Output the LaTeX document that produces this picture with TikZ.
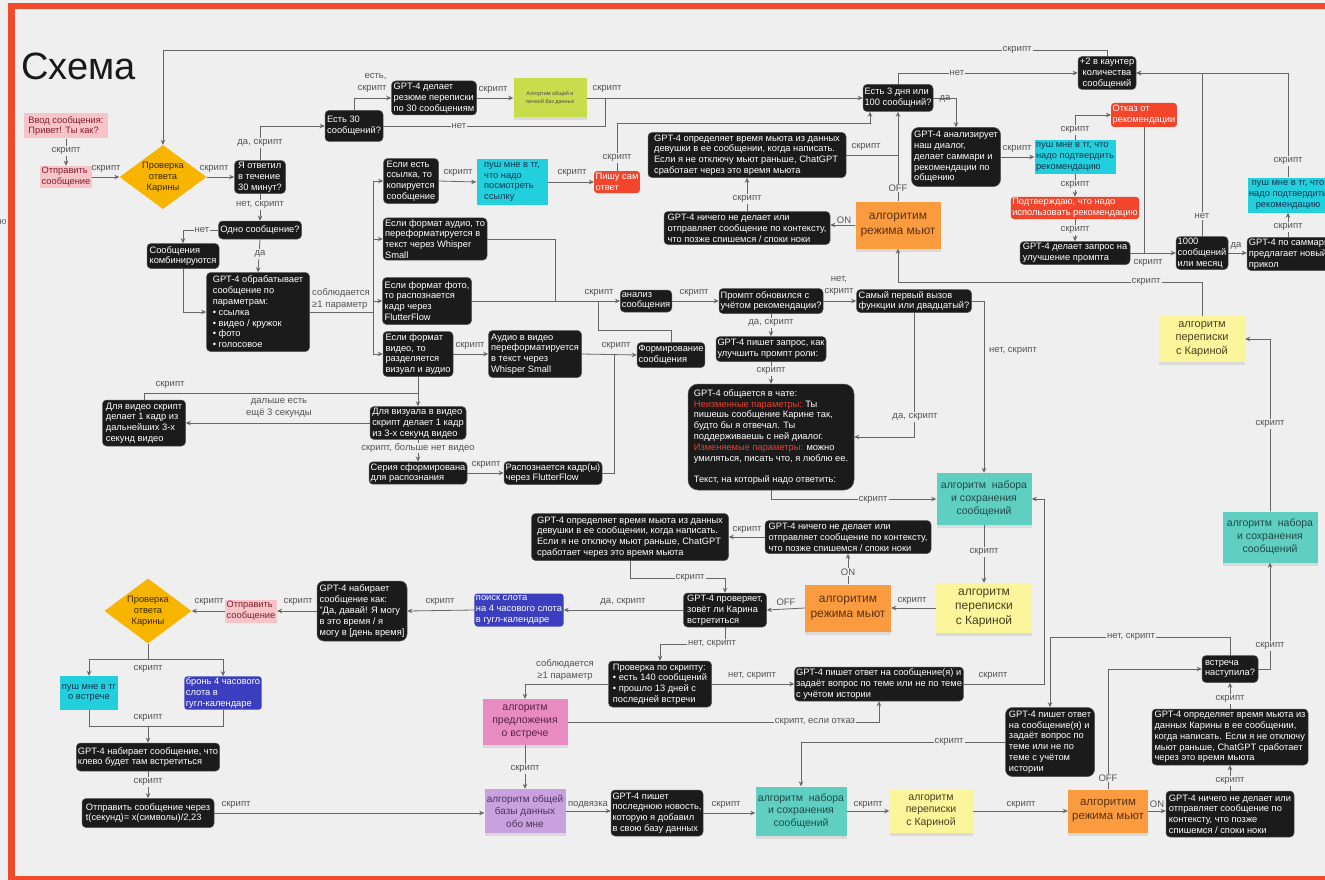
\documentclass[tikz,border=0pt]{standalone}
\usepackage{fontspec}
\setmainfont{Liberation Sans}
\usetikzlibrary{arrows.meta,shapes.geometric,shadows}
\definecolor{bgc}{HTML}{EFEFEF}
\definecolor{framec}{HTML}{F04A2A}
\definecolor{nblack}{HTML}{1B1B1B}
\definecolor{nborder}{HTML}{555555}
\definecolor{pinkf}{HTML}{F9C4C8}
\definecolor{pinkt}{HTML}{7A1E30}
\definecolor{diaf}{HTML}{F7B500}
\definecolor{diat}{HTML}{3A2A00}
\definecolor{limef}{HTML}{C7DD4C}
\definecolor{cyanf}{HTML}{22CFDC}
\definecolor{cyant}{HTML}{143650}
\definecolor{redf}{HTML}{F2452B}
\definecolor{bluef}{HTML}{3B3FBF}
\definecolor{tealf}{HTML}{5FCFC1}
\definecolor{tealt}{HTML}{234A48}
\definecolor{yelf}{HTML}{FBF59C}
\definecolor{yelt}{HTML}{45421E}
\definecolor{orf}{HTML}{FB9B3F}
\definecolor{ort}{HTML}{5A3414}
\definecolor{pkf}{HTML}{E88BC1}
\definecolor{pkt}{HTML}{5A2448}
\definecolor{puf}{HTML}{C9A1DE}
\definecolor{put}{HTML}{4A3560}
\definecolor{linec}{HTML}{666666}
\definecolor{labc}{HTML}{555555}
\definecolor{redt}{HTML}{E8412E}
\newcommand\myfa{\fontsize{9.3}{10.8}\selectfont}
\newcommand\myfl{\fontsize{9.5}{12}\selectfont}
\newcommand\myfs{\fontsize{10.5}{13}\selectfont}
\newcommand\myfo{\fontsize{12}{15}\selectfont}
\newcommand\myfd{\fontsize{9.3}{10.8}\selectfont}
\tikzset{
  sz/.style 2 args={minimum width=#1, minimum height=#2},
  base/.style={font=\myfa, inner sep=1.5pt, align=left},
  blk/.style={base, rectangle, rounded corners=4pt, fill=nblack, draw=nborder, line width=0.5pt, text=white},
  pinkb/.style={base, rectangle, fill=pinkf, text=pinkt},
  cyanb/.style={base, rectangle, fill=cyanf, text=cyant},
  redb/.style={base, rectangle, rounded corners=3pt, fill=redf, text=white},
  blueb/.style={base, rectangle, rounded corners=3pt, fill=bluef, text=white},
  sticky/.style={rectangle, font=\myfs, align=center, inner sep=2pt, drop shadow={shadow xshift=0pt, shadow yshift=-3pt, opacity=0.18}},
  tealb/.style={sticky, fill=tealf, text=tealt},
  yelb/.style={sticky, fill=yelf, text=yelt},
  orb/.style={sticky, fill=orf, text=ort, font=\myfo},
  pkb/.style={sticky, fill=pkf, text=pkt},
  pub/.style={sticky, fill=puf, text=put},
  limeb/.style={sticky, fill=limef, text=black!70, font=\fontsize{5.5}{7.5}\selectfont},
  dia/.style={diamond, fill=diaf, text=diat, font=\myfd, align=center, inner sep=0pt, aspect=1.36},
  line/.style={draw=linec, line width=0.8pt},
  arr/.style={line, -{Stealth[length=5pt,width=4.5pt]}},
  lab/.style={font=\myfl, text=labc, inner sep=1pt, align=center},
  labf/.style={lab, fill=bgc},
}
\begin{document}
\begin{tikzpicture}[x=1pt,y=-1pt]
\useasboundingbox (0,0) rectangle (1325,880);
\clip (0,0) rectangle (1325,880);
\fill[bgc] (0,0) rectangle (1325,880);
\draw[framec, line width=6.5pt] (11.5,885) -- (11.5,6) -- (1335,6);
\draw[framec, line width=4pt] (11.5,878) -- (1335,878);

\node[anchor=west, font=\fontsize{38}{40}\selectfont, text=black!90] (title) at (18,66) {Схема};
\node[font=\myfa, text=black!60, inner sep=0pt] (edgeyu) at (3,222) {ю};

% ---------- nodes ----------
\node[pinkb, sz={84pt}{25pt}] (n1) at (66,126) {Ввод сообщения:\\Привет! Ты как?};
\node[pinkb, sz={52pt}{22pt}] (n2) at (66,177) {Отправить\\сообщение};
\node[dia, sz={87pt}{64pt}] (n3) at (163,177) {Проверка\\ответа\\Карины};
\node[blk, sz={51pt}{33pt}] (n4) at (260,177) {Я ответил\\в течение\\30 минут?};
\node[blk, sz={58pt}{31pt}] (n5) at (354,126) {Есть 30\\сообщений?};
\node[blk, sz={85pt}{34pt}] (n6) at (434,98) {GPT-4 делает\\резюме переписки\\по 30 сообщениям};
\node[limeb, sz={73pt}{39pt}] (n7) at (550,98) {Алгортим общей и\\личной баз данных};
\node[blk, sz={70pt}{27pt}] (n8) at (898,98) {Есть 3 дня или\\100 сообщний?};
\node[blk, sz={55pt}{45pt}] (n9) at (411,181) {Если есть\\ссылка, то\\копируется\\сообщение};
\node[cyanb, sz={71pt}{46pt}] (n10) at (512,182) {пуш мне в тг,\\что надо\\посмотреть\\ссылку};
\node[redb, sz={45pt}{22pt}] (n11) at (617,182) {Пишу сам\\ответ};
\node[blk, sz={104pt}{42pt}] (n12) at (435,239) {Если формат аудио, то\\переформатируется в\\текст через Whisper\\Small};
\node[blk, sz={89pt}{47pt}] (n13) at (427,301) {Если формат фото,\\то распознается\\кадр через\\FlutterFlow};
\node[blk, sz={70pt}{45pt}] (n14) at (418,354) {Если формат\\видео, то\\разделяется\\визуал и аудио};
\node[blk, sz={83pt}{18pt}] (n15) at (260,230) {Одно сообщение?};
\node[blk, sz={72pt}{25pt}] (n16) at (183,256) {Сообщения\\комбинируются};
\node[blk, sz={103pt}{79pt}] (n17) at (258,312) {GPT-4 обрабатывает\\сообщение по\\параметрам:\\• ссылка\\• видео / кружок\\• фото\\• голосовое};
\node[blk, sz={93pt}{47pt}] (n18) at (535,354) {Аудио в видео\\переформатируется\\в текст через\\Whisper Small};
\node[blk, sz={51pt}{22pt}] (n19) at (646,301) {анализ\\сообщения};
\node[blk, sz={67pt}{25pt}] (n20) at (671,355) {Формирование\\сообщения};
\node[blk, sz={104pt}{25pt}] (n21) at (771,301) {Промпт обновился с\\учётом рекомендации?};
\node[blk, sz={115pt}{23pt}] (n22) at (914,301) {Самый первый вызов\\функции или двадцатый?};
\node[blk, sz={109pt}{25pt}] (n23) at (771,349) {GPT-4 пишет запрос, как\\улучшить промпт роли:};
\node[blk, sz={166pt}{106pt}, rounded corners=10pt] (n24) at (771,437) {GPT-4 общается в чате:\\\textcolor{redt}{Неизменные параметры:} Ты\\пишешь сообщение Карине так,\\будто бы я отвечал. Ты\\поддерживаешь с ней диалог.\\\textcolor{redt}{Изменяемые параметры:} можно\\умиляться, писать что, я люблю ее.\\\mbox{}\\Текст, на который надо ответить:};
\node[tealb, sz={95pt}{52pt}] (n25) at (984,499) {алгоритм\ \ набора\\и сохранения\\сообщений};
\node[yelb, sz={96pt}{50pt}, font=\fontsize{12}{14.5}\selectfont] (n26) at (984,608) {алгоритм\\переписки\\с Кариной};
\node[orb, sz={86pt}{47pt}] (n27) at (848,608) {алгоритим\\режима мьют};
\node[blk, sz={166pt}{33pt}] (n28) at (848,537) {GPT-4 ничего не делает или\\отправляет сообщение по контексту,\\что позже спишемся / споки ноки};
\node[blk, sz={197pt}{47pt}] (n29) at (630,537) {GPT-4 определяет время мьюта из данных\\девушки в ее сообщении, когда написать.\\Если я не отключу мьют раньше, ChatGPT\\сработает через это время мьюта};
\node[blk, sz={83pt}{34pt}] (n30) at (725,610) {GPT-4 проверяет,\\зовёт ли Карина\\встретиться};
\node[blueb, sz={88pt}{33pt}] (n31) at (519,610) {поиск слота\\на 4 часового слота\\в гугл-календаре};
\node[blk, sz={90pt}{60pt}, rounded corners=7pt] (n32) at (362,611) {GPT-4 набирает\\сообщение как:\\"Да, давай! Я могу\\в это время / я\\могу в [день время]};
\node[pinkb, sz={51pt}{23pt}] (n33) at (251,611) {Отправить\\сообщение};
\node[dia, sz={87pt}{65pt}] (n34) at (148,611) {Проверка\\ответа\\Карины};
\node[cyanb, sz={57pt}{34pt}, align=center] (n35) at (89,693) {пуш мне в тг\\о встрече};
\node[blueb, sz={77pt}{32pt}] (n36) at (223,693) {бронь 4 часового\\слота в\\гугл-календаре};
\node[blk, sz={143pt}{28pt}] (n37) at (148,757) {GPT-4 набирает сообщение, что\\клево будет там встретиться};
\node[blk, sz={132pt}{29pt}] (n38) at (148,813) {Отправить сообщение через\\t(секунд)= x(символы)/2,23};
\node[pub, sz={81pt}{44pt}, font=\fontsize{10}{12.5}\selectfont] (n39) at (525,811) {алгоритм общей\\базы данных\\обо мне};
\node[pkb, sz={85pt}{46pt}] (n40) at (525,722) {алгоритм\\предложения\\о встрече};
\node[blk, sz={103pt}{46pt}] (n41) at (660,684) {Проверка по скрипту:\\• есть 140 сообщений\\• прошло 13 дней с\\последней встречи};
\node[blk, sz={168pt}{34pt}] (n42) at (879,684) {GPT-4 пишет ответ на сообщение(я) и\\задаёт вопрос по теме или не по теме\\с учётом истории};
\node[blk, sz={56pt}{27pt}] (n43) at (1230,669) {встреча\\наступила?};
\node[blk, sz={89pt}{69pt}, rounded corners=7pt] (n44) at (1050,742) {GPT-4 пишет ответ\\на сообщение(я) и\\задаёт вопрос по\\теме или не по\\теме с учётом\\истории};
\node[tealb, sz={91pt}{49pt}, font=\fontsize{10.5}{12.5}\selectfont] (n45) at (801,811) {алгоритм\ \ набора\\и сохранения\\сообщений};
\node[blk, sz={92pt}{46pt}] (n46) at (657,813) {GPT-4 пишет\\последнюю новость,\\которую я добавил\\в свою базу данных};
\node[yelb, sz={83pt}{43pt}, font=\fontsize{10.5}{12.5}\selectfont] (n47) at (931,811) {алгоритм\\переписки\\с Кариной};
\node[orb, sz={80pt}{43pt}, font=\fontsize{11.5}{14}\selectfont] (n48) at (1108,811) {алгоритим\\режима мьют};
\node[blk, sz={128pt}{46pt}] (n49) at (1230,814) {GPT-4 ничего не делает или\\отправляет сообщение по\\контексту, что позже\\спишемся / споки ноки};
\node[blk, sz={156pt}{56pt}] (n50) at (1230,737) {GPT-4 определяет время мьюта из\\данных Карины в ее сообщении,\\когда написать. Если я не отключу\\мьют раньше, ChatGPT сработает\\через это время мьюта};
\node[tealb, sz={95pt}{51pt}] (n51) at (1270,537) {алгоритм\ \ набора\\и сохранения\\сообщений};
\node[yelb, sz={86pt}{46pt}, font=\fontsize{11}{13.5}\selectfont] (n52) at (1202,339) {алгоритм\\переписки\\с Кариной};
\node[orb, sz={85pt}{47pt}] (n53) at (898,225) {алгоритим\\режима мьют};
\node[blk, sz={166pt}{33pt}] (n54) at (747,228) {GPT-4 ничего не делает или\\отправляет сообщение по контексту,\\что позже спишемся / споки ноки};
\node[blk, sz={198pt}{45pt}] (n55) at (747,155) {GPT-4 определяет время мьюта из данных\\девушки в ее сообщении, когда написать.\\Если я не отключу мьют раньше, ChatGPT\\сработает через это время мьюта};
\node[blk, sz={58pt}{33pt}, align=center] (n56) at (1107,73) {+2 в каунтер\\количества\\сообщений};
\node[blk, sz={89pt}{59pt}, rounded corners=7pt] (n57) at (956,157) {GPT-4 анализирует\\наш диалог,\\делает саммари и\\рекомендации по\\общению};
\node[cyanb, sz={81pt}{34pt}] (n58) at (1075,157) {пуш мне в тг, что\\надо подтвердить\\рекомендацию};
\node[redb, sz={64pt}{24pt}] (n59) at (1144,115) {Отказ от\\рекомендации};
\node[redb, sz={127pt}{22pt}] (n60) at (1075,208) {Подтверждаю, что надо\\использовать рекомендацию};
\node[blk, sz={110pt}{23pt}] (n61) at (1075,253) {GPT-4 делает запрос на\\улучшение промпта};
\node[blk, sz={52pt}{33pt}] (n62) at (1202,253) {1000\\сообщений\\или месяц};
\node[blk, sz={84pt}{32pt}] (n63) at (1289,254) {GPT-4 по саммари\\предлагает новый\\прикол};
\node[cyanb, sz={80pt}{35pt}, align=center] (n64) at (1288,195) {пуш мне в тг, что\\надо подтвердить\\рекомендацию};
\node[blk, sz={96pt}{32pt}] (n65) at (418,423) {Для визуала в видео\\скрипт делает 1 кадр\\из 3-х секунд видео};
\node[blk, sz={83pt}{46pt}] (n66) at (144,423) {Для видео скрипт\\делает 1 кадр из\\дальнейших 3-х\\секунд видео};
\node[blk, sz={98pt}{22pt}] (n67) at (418,473) {Серия сформирована\\для распознания};
\node[blk, sz={98pt}{23pt}] (n68) at (553,473) {Распознается кадр(ы)\\через FlutterFlow};

% ---------- helper coordinates ----------
\coordinate (ctop) at (163,50);
\coordinate (m1) at (605,98);
\coordinate (c11) at (870,123);
\coordinate (b1) at (373,312);
\coordinate (j1) at (555,301);
\coordinate (j2) at (598,330);
\coordinate (k1) at (725,578);
\coordinate (k2) at (660,644);
\coordinate (k3) at (1044,684);
\coordinate (k4) at (1050,637);
\coordinate (k5) at (898,282);
\coordinate (s1) at (148,659);
\coordinate (s2) at (148,726);
\coordinate (v1) at (418,393);
\coordinate (v2) at (614,354);
\coordinate (g1) at (898,155);

% ---------- connectors ----------
\draw[arr] (n1.south) -- (n2.north);
\draw[arr] (n2.east) -- (n3.west);
\draw[arr] (n56.north) |- (ctop) -- (n3.north);
\draw[arr] (n3.east) -- (n4.west);
\draw[arr] (n4.north) |- (n5.west);
\draw[arr] (n5.north) |- (n6.west);
\draw[arr] (n6.east) -- (n7.west);
\draw[arr] (n7.east) -- (n8.west);
\draw[line] (n5.east) -| (m1);
\draw[arr] (n11.north) |- (c11) -- (c11 |- n8.south);
\draw[arr] (n4.south) -- (n15.north);
\draw[arr] (n15.west) -| (n16.north);
\draw[arr] (n15.south) -- (n17.north);
\draw[arr] (n16.south) |- (n17.west);
\draw[line] (n17.east) -- (b1);
\draw[arr] (b1) |- (n9.west);
\draw[arr] (b1) |- (n12.west);
\draw[arr] (b1) |- (n13.west);
\draw[arr] (b1) |- (n14.west);
\draw[arr] (n9.east) -- (n10.west);
\draw[arr] (n10.east) -- (n11.west);
\draw[line] (n12.east) -| (j1);
\draw[arr] (n13.east) -- (n19.west);
\draw[arr] (n14.east) -- (n18.west);
\draw[arr] (n18.east) -- (n20.west);
\draw[line] (n20.north) |- (j2) -- (j2 |- n19.west);
\draw[arr] (n19.east) -- (n21.west);
\draw[arr] (n21.east) -- (n22.west);
\draw[arr] (n21.south) -- (n23.north);
\draw[arr] (n23.south) -- (n24.north);
\draw[arr] (n22.south) |- (n24.east);
\draw[arr] (n22.east) -| (n25.north);
\draw[arr] (n24.south) |- (n25.west);
\draw[arr] (n25.south) -- (n26.north);
\draw[arr] (n26.west) -- (n27.east);
\draw[arr] (n27.north) -- (n28.south);
\draw[arr] (n28.west) -- (n29.east);
\draw[arr] (n27.west) -- (n30.east);
\draw[arr] (n29.south) |- (k1) -- (n30.north);
\draw[arr] (n30.west) -- (n31.east);
\draw[arr] (n31.west) -- (n32.east);
\draw[arr] (n32.west) -- (n33.east);
\draw[arr] (n33.west) -- (n34.east);
\draw[line] (n34.south) -- (s1);
\draw[arr] (s1) -| (n35.north);
\draw[arr] (s1) -| (n36.north);
\draw[line] (n35.south) |- (s2);
\draw[line] (n36.south) |- (s2);
\draw[arr] (s2) -- (n37.north);
\draw[arr] (n37.south) -- (n38.north);
\draw[arr] (n38.east) -- (n38.east -| n39.west);
\draw[arr] (n40.south) -- (n39.north);
\draw[arr] (n30.south) |- (k2) -- (n41.north);
\draw[arr] (n41.west) -| (n40.north);
\draw[arr] (n41.east) -- (n42.west);
\draw[arr] (n40.east) -| (n42.south);
\draw[arr] (n42.east) -- (k3) |- (n25.east);
\draw[arr] (n39.east) -- (n39.east -| n46.west);
\draw[arr] (n46.east) -- (n46.east -| n45.west);
\draw[arr] (n45.east) -- (n47.west);
\draw[arr] (n47.east) -- (n48.west);
\draw[arr] (n48.east) -- (n48.east -| n49.west);
\draw[arr] (n49.north) -- (n50.south);
\draw[arr] (n50.north) -- (n43.south);
\draw[arr] (n48.north) |- (n43.west);
\draw[arr] (n43.north) |- (k4) -- (n44.north);
\draw[arr] (n44.west) -| (n45.north);
\draw[arr] (n43.east) -| (n51.south);
\draw[arr] (n51.north) |- (n52.east);
\draw[arr] (n52.north) |- (k5) -- (n53.south);
\draw[arr] (n53.west) -- (n53.west -| n54.east);
\draw[arr] (n54.north) -- (n55.south);
\draw[arr] (n53.north) -- (n8.south);
\draw[line] (n55.east) -- (g1);
\draw[arr] (n8.north) |- (n56.west);
\draw[arr] (n8.east) -| (n57.north);
\draw[arr] (n57.east) -- (n58.west);
\draw[arr] (n58.north) |- (n59.west);
\draw[arr] (n58.south) -- (n60.north);
\draw[arr] (n60.south) -- (n61.north);
\draw[arr] (n61.east) -- (n62.west);
\draw[line] (n59.south) -- (n59.south |- n62.west);
\draw[arr] (n62.north) |- (n56.east);
\draw[arr] (n62.east) -- (n62.east -| n63.west);
\draw[arr] (n64.south |- n63.north) -- (n64.south);
\draw[arr] (n64.north) |- (n56.east);
\draw[arr] (n14.south) -- (n65.north);
\draw[line] (n66.north) |- (v1);
\draw[arr] (n65.west) -- (n65.west -| n66.east);
\draw[arr] (n65.south) -- (n67.north);
\draw[arr] (n67.east) -- (n67.east -| n68.west);
\draw[line] (n68.east) -| (v2);

% ---------- labels ----------
\node[labf] (l1) at (66,151) {скрипт};
\node[lab] (l2) at (106,169) {скрипт};
\node[labf] (l3) at (1017,50) {скрипт};
\node[lab] (l4) at (214,169) {скрипт};
\node[labf] (l5) at (260,143) {да, скрипт};
\node[lab, align=right] (l6) at (372,83) {есть,\\скрипт};
\node[lab] (l7) at (493,90) {скрипт};
\node[lab] (l8) at (607,89) {скрипт};
\node[labf] (l9) at (459,126) {нет};
\node[labf] (l10) at (617,158) {скрипт};
\node[labf] (l11) at (260,205) {нет, скрипт};
\node[labf] (l12) at (202,230) {нет};
\node[labf] (l13) at (260,254) {да};
\node[lab, align=left] (l14) at (341,299) {соблюдается\\≥1 параметр};
\node[lab] (l15) at (458,173) {скрипт};
\node[lab] (l16) at (572,173) {скрипт};
\node[lab] (l17) at (599,293) {скрипт};
\node[lab] (l18) at (470,346) {скрипт};
\node[lab] (l19) at (616,346) {скрипт};
\node[lab] (l20) at (694,293) {скрипт};
\node[lab] (l21) at (839,286) {нет,\\скрипт};
\node[labf] (l22) at (771,323) {да, скрипт};
\node[labf] (l23) at (771,371) {скрипт};
\node[labf] (l24) at (915,417) {да, скрипт};
\node[lab] (l25) at (1013,351) {нет, скрипт};
\node[labf] (l26) at (873,500) {скрипт};
\node[labf] (l27) at (984,552) {скрипт};
\node[lab] (l28) at (912,601) {скрипт};
\node[labf] (l29) at (848,572) {ON};
\node[lab] (l30) at (747,530) {скрипт};
\node[lab] (l31) at (786,602) {OFF};
\node[labf] (l32) at (690,578) {скрипт};
\node[lab] (l33) at (623,602) {да, скрипт};
\node[lab] (l34) at (440,602) {скрипт};
\node[lab] (l35) at (298,602) {скрипт};
\node[lab] (l36) at (209,602) {скрипт};
\node[lab] (l37) at (148,669) {скрипт};
\node[lab] (l38) at (148,718) {скрипт};
\node[labf] (l39) at (148,782) {скрипт};
\node[lab] (l40) at (236,805) {скрипт};
\node[labf] (l41) at (525,769) {скрипт};
\node[labf] (l42) at (712,644) {нет, скрипт};
\node[lab] (l43) at (565,670) {соблюдается\\≥1 параметр};
\node[lab] (l44) at (752,676) {нет, скрипт};
\node[labf] (l45) at (815,722) {скрипт, если отказ};
\node[lab] (l46) at (993,676) {скрипт};
\node[lab] (l47) at (588,805) {подвязка};
\node[lab] (l48) at (726,805) {скрипт};
\node[lab] (l49) at (868,805) {скрипт};
\node[lab] (l50) at (1021,805) {скрипт};
\node[lab] (l51) at (1157,804) {ON};
\node[labf] (l52) at (1230,781) {скрипт};
\node[labf] (l53) at (1230,699) {скрипт};
\node[labf] (l54) at (1108,778) {OFF};
\node[labf] (l55) at (1131,637) {нет, скрипт};
\node[labf] (l56) at (949,742) {скрипт};
\node[labf] (l57) at (1270,646) {скрипт};
\node[labf] (l58) at (1270,424) {скрипт};
\node[labf] (l59) at (1146,282) {скрипт};
\node[lab] (l60) at (844,220) {ON};
\node[labf] (l61) at (747,199) {скрипт};
\node[labf] (l62) at (898,188) {OFF};
\node[lab] (l63) at (866,147) {скрипт};
\node[labf] (l64) at (957,73) {нет};
\node[lab] (l65) at (945,99) {да};
\node[lab] (l66) at (1017,149) {скрипт};
\node[labf] (l67) at (1075,130) {скрипт};
\node[labf] (l68) at (1075,185) {скрипт};
\node[labf] (l69) at (1075,230) {скрипт};
\node[lab] (l70) at (1148,263) {скрипт};
\node[labf] (l71) at (1202,216) {нет};
\node[lab] (l72) at (1236,246) {да};
\node[labf] (l73) at (1288,227) {скрипт};
\node[labf] (l74) at (1288,161) {скрипт};
\node[lab] (l75) at (170,385) {скрипт};
\node[lab] (l76) at (279,408) {дальше есть\\ещё 3 секунды};
\node[labf] (l77) at (418,448) {скрипт, больше нет видео};
\node[lab] (l78) at (486,465) {скрипт};
\end{tikzpicture}
\end{document}
